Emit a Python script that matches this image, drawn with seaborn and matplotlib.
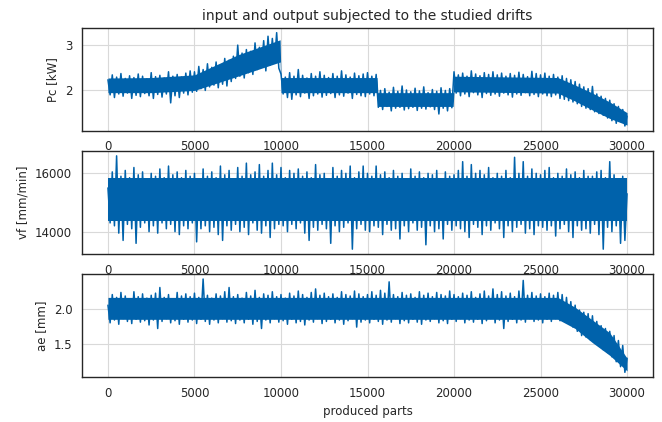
import numpy as np
import pandas as pd
import matplotlib
matplotlib.use("Agg")
import matplotlib.pyplot as plt
import seaborn as sns

# values: upper envelope every 250 parts (0..30000),
# lower envelope in between (125..29875); one row = 2500 parts
pc_upper = [2.22, 2.33, 2.28, 2.36, 2.25, 2.31, 2.27, 2.35, 2.30, 2.24,
            2.38, 2.29, 2.32, 2.26, 2.40, 2.30, 2.34, 2.28, 2.37, 2.42,
            2.40, 2.52, 2.45, 2.58, 2.50, 2.62, 2.55, 2.70, 2.66, 2.75,
            3.00, 2.82, 2.90, 2.86, 3.05, 2.95, 3.10, 3.20, 3.15, 3.28,
            2.35, 2.28, 2.38, 2.30, 2.45, 2.32, 2.26, 2.36, 2.30, 2.40,
            2.32, 2.27, 2.36, 2.30, 2.42, 2.33, 2.28, 2.37, 2.31, 2.35,
            2.38, 2.30, 2.34, 1.98, 2.02, 1.94, 2.05, 1.96, 2.08, 1.99,
            1.95, 2.03, 1.97, 2.06, 1.93, 2.00, 1.96, 2.04, 1.98, 2.02,
            2.40, 2.33, 2.37, 2.30, 2.42, 2.35, 2.31, 2.38, 2.34, 2.40,
            2.33, 2.37, 2.30, 2.36, 2.32, 2.39, 2.34, 2.29, 2.41, 2.36,
            2.33, 2.37, 2.30, 2.34, 2.28, 2.31, 2.25, 2.22, 2.18, 2.12,
            2.06, 2.02, 2.07, 1.90, 1.85, 1.80, 1.76, 1.68, 1.62, 1.55,
            1.40]
pc_lower = [1.88, 1.82, 1.90, 1.85, 1.92, 1.80, 1.87, 1.84, 1.91, 1.86,
            1.80, 1.89, 1.83, 1.90, 1.70, 1.86, 1.82, 1.92, 1.88, 1.94,
            1.96, 2.02, 1.98, 2.06, 2.10, 2.04, 2.12, 2.08, 2.18, 2.25,
            2.30, 2.26, 2.38, 2.34, 2.45, 2.50, 2.42, 2.55, 2.60, 2.48,
            1.90, 1.82, 1.78, 1.88, 1.84, 1.92, 1.80, 1.86, 1.90, 1.83,
            1.87, 1.91, 1.82, 1.88, 1.85, 1.92, 1.80, 1.89, 1.86, 1.84,
            1.90, 1.86, 1.60, 1.55, 1.62, 1.52, 1.58, 1.60, 1.54, 1.57,
            1.60, 1.53, 1.58, 1.56, 1.61, 1.55, 1.45, 1.58, 1.52, 1.59,
            1.92, 1.86, 1.90, 1.84, 1.93, 1.88, 1.82, 1.91, 1.87, 1.90,
            1.85, 1.92, 1.88, 1.83, 1.90, 1.87, 1.93, 1.86, 1.89, 1.84,
            1.90, 1.86, 1.84, 1.88, 1.80, 1.78, 1.75, 1.72, 1.68, 1.62,
            1.58, 1.55, 1.50, 1.46, 1.42, 1.36, 1.30, 1.24, 1.28, 1.18]

vf_upper = [15500, 16050, 16600, 15900, 16100, 15850, 16200, 15950, 16050, 15800,
            16000, 15900, 16150, 15850, 16250, 15950, 16050, 15850, 16100, 15900,
            16000, 15800, 16150, 15900, 16050, 15850, 16250, 15950, 16100, 15800,
            16200, 15900, 16350, 15950, 16050, 16300, 15900, 16100, 16350, 15950,
            16200, 15850, 16100, 16000, 16150, 15900, 16050, 15850, 16300, 15950,
            16000, 15800, 16200, 15900, 16100, 16000, 16250, 15850, 16050, 16250,
            16000, 15900, 16250, 15950, 16050, 15850, 16100, 15900, 16000, 15800,
            16150, 15900, 16050, 15850, 16000, 15950, 16100, 15800, 16050, 15900,
            15950, 16100, 16400, 15900, 16300, 16000, 16100, 15950, 16200, 15850,
            16000, 15900, 16100, 15850, 16550, 16000, 16400, 15900, 16150, 16000,
            15950, 16100, 16200, 15850, 16000, 15900, 16150, 15950, 16050, 15850,
            16100, 15900, 15900, 16050, 16100, 15850, 16400, 15950, 15800, 15900,
            15300]
vf_lower = [14300, 14200, 13950, 13700, 14250, 14100, 13600, 14150, 14300, 14000,
            14200, 13950, 14300, 14100, 14250, 14000, 13900, 14200, 14100, 14300,
            13650, 14100, 14200, 14000, 14150, 13900, 13700, 14200, 14050, 14250,
            14000, 14150, 13900, 14300, 14050, 13950, 14200, 13800, 14100, 14250,
            14200, 14000, 14250, 14100, 14300, 13950, 13700, 14150, 14050, 14250,
            14100, 13600, 14200, 14000, 14150, 14300, 13400, 14100, 14250, 14050,
            14000, 14200, 14150, 13900, 14250, 14050, 14100, 13750, 14200, 14000,
            14300, 14050, 14150, 13550, 14200, 14000, 14100, 13750, 14250, 14050,
            14200, 14100, 14000, 13800, 14250, 14150, 13900, 14200, 14050, 14300,
            14100, 13800, 14200, 14000, 14150, 14250, 13950, 14100, 13900, 14200,
            14150, 14050, 14200, 13850, 14100, 14250, 14000, 13800, 14200, 14050,
            14100, 13950, 14250, 13900, 13400, 14150, 14000, 14200, 13600, 13700]

ae_upper = [2.05, 2.20, 2.16, 2.23, 2.18, 2.14, 2.24, 2.17, 2.21, 2.15,
            2.19, 2.22, 2.30, 2.16, 2.20, 2.14, 2.23, 2.18, 2.21, 2.17,
            2.22, 2.16, 2.42, 2.19, 2.15, 2.21, 2.18, 2.24, 2.30, 2.17,
            2.20, 2.15, 2.23, 2.18, 2.26, 2.16, 2.21, 2.19, 2.24, 2.17,
            2.20, 2.15, 2.22, 2.18, 2.25, 2.20, 2.16, 2.23, 2.28, 2.19,
            2.22, 2.17, 2.21, 2.16, 2.24, 2.20, 2.18, 2.25, 2.21, 2.17,
            2.20, 2.24, 2.19, 2.26, 2.22, 2.38, 2.20, 2.17, 2.23, 2.19,
            2.21, 2.16, 2.24, 2.19, 2.22, 2.17, 2.23, 2.20, 2.18, 2.25,
            2.20, 2.17, 2.22, 2.19, 2.24, 2.16, 2.21, 2.25, 2.18, 2.28,
            2.20, 2.24, 2.18, 2.22, 2.17, 2.25, 2.40, 2.19, 2.23, 2.18,
            2.21, 2.17, 2.22, 2.19, 2.23, 2.20, 2.16, 2.10, 2.05, 1.98,
            1.95, 1.93, 1.90, 1.82, 1.76, 1.72, 1.68, 1.62, 1.55, 1.48,
            1.30]
ae_lower = [1.80, 1.84, 1.78, 1.86, 1.82, 1.79, 1.85, 1.81, 1.83, 1.77,
            1.84, 1.72, 1.82, 1.86, 1.80, 1.83, 1.78, 1.85, 1.81, 1.84,
            1.79, 1.85, 1.82, 1.78, 1.84, 1.80, 1.86, 1.81, 1.83, 1.79,
            1.84, 1.80, 1.85, 1.78, 1.82, 1.72, 1.84, 1.80, 1.86, 1.81,
            1.83, 1.78, 1.85, 1.80, 1.82, 1.77, 1.84, 1.81, 1.86, 1.79,
            1.82, 1.85, 1.80, 1.84, 1.78, 1.83, 1.86, 1.74, 1.81, 1.84,
            1.80, 1.85, 1.82, 1.78, 1.84, 1.81, 1.86, 1.79, 1.83, 1.80,
            1.85, 1.81, 1.78, 1.84, 1.82, 1.86, 1.80, 1.83, 1.79, 1.85,
            1.82, 1.86, 1.80, 1.84, 1.81, 1.85, 1.79, 1.83, 1.86, 1.80,
            1.84, 1.72, 1.82, 1.85, 1.80, 1.84, 1.81, 1.86, 1.82, 1.84,
            1.80, 1.85, 1.82, 1.86, 1.83, 1.84, 1.80, 1.74, 1.68, 1.62,
            1.60, 1.56, 1.52, 1.48, 1.42, 1.38, 1.32, 1.25, 1.18, 1.10]

# dichter Kern des Signals (wo es im Bild geschlossen blau ist)
pc_core_parts = [0, 2500, 5000, 7500, 9950, 10000, 15550, 15600, 19950, 20000,
                 26000, 27000, 28000, 29000, 30000]
pc_core_upper = [2.26, 2.27, 2.33, 2.78, 3.12, 2.27, 2.27, 1.93, 1.93, 2.30,
                 2.27, 2.10, 1.92, 1.72, 1.48]
pc_core_lower = [1.93, 1.93, 1.98, 2.30, 2.62, 1.93, 1.93, 1.62, 1.62, 1.95,
                 1.92, 1.74, 1.54, 1.35, 1.20]

vf_core_parts = [0, 30000]
vf_core_upper = [15850, 15850]
vf_core_lower = [14350, 14350]

ae_core_parts = [0, 26000, 27000, 28000, 29000, 30000]
ae_core_upper = [2.16, 2.16, 2.02, 1.84, 1.66, 1.30]
ae_core_lower = [1.85, 1.85, 1.72, 1.52, 1.34, 1.12]

parts_upper = np.arange(0, 30001, 250)
parts_lower = parts_upper[:-1] + 125


def zigzag(upper, lower):
    """obere/untere Werte abwechselnd zu einer Linie zusammenfügen"""
    df = pd.concat([pd.DataFrame({"part": parts_upper, "value": upper}),
                    pd.DataFrame({"part": parts_lower, "value": lower})])
    return df.sort_values("part").reset_index(drop=True)


sns.set_style("whitegrid", {"axes.edgecolor": "0.15", "grid.color": "0.85"})
plt.rcParams["font.family"] = ["DejaVu Sans"]
plt.rcParams["font.size"] = 8.5

color = "#0062ab"
panels = [
    (pc_upper, pc_lower, pc_core_parts, pc_core_upper, pc_core_lower, "Pc [kW]", [2, 3]),
    (vf_upper, vf_lower, vf_core_parts, vf_core_upper, vf_core_lower, "vf [mm/min]", [14000, 16000]),
    (ae_upper, ae_lower, ae_core_parts, ae_core_upper, ae_core_lower, "ae [mm]", [1.5, 2.0]),
]

fig, axes = plt.subplots(3, 1, figsize=(6.62, 4.22), dpi=100)
fig.subplots_adjust(left=82 / 662, right=653 / 662, top=1 - 28 / 422,
                    bottom=1 - 377 / 422, hspace=0.2)

for ax, (up, lo, cx, cu, cl, label, ticks) in zip(axes, panels):
    df = zigzag(up, lo)
    ax.fill_between(cx, cl, cu, color=color, linewidth=0, zorder=2)
    sns.lineplot(data=df, x="part", y="value", ax=ax, color=color,
                 linewidth=1.1, estimator=None, sort=False, zorder=3)
    ax.set_ylabel(label, fontsize=8.5)
    ax.set_xlabel("")
    ax.set_yticks(ticks)
    ax.set_xticks(np.arange(0, 30001, 5000))
    ax.tick_params(labelsize=8.5, length=3.5, color="0.15")
    ax.set_xlim(-1500, 31500)
    for s in ax.spines.values():
        s.set_linewidth(1.0)

axes[0].set_title("input and output subjected to the studied drifts", fontsize=10)
axes[2].set_xlabel("produced parts", fontsize=8.5)

fig.savefig("out.png", dpi=100)
